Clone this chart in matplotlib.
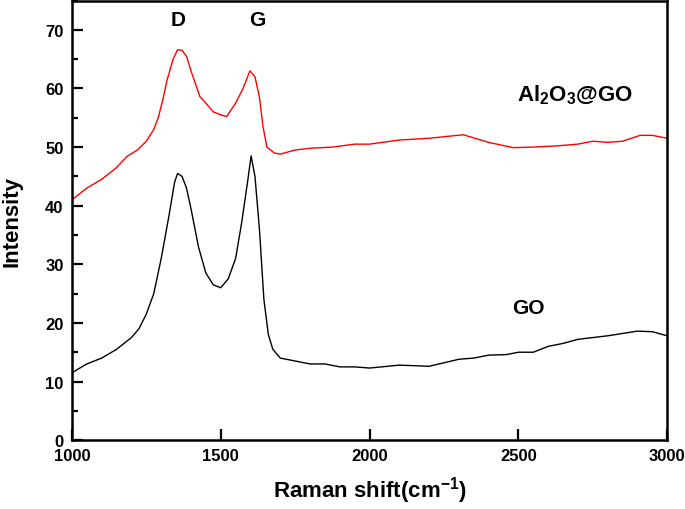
import matplotlib
matplotlib.use("Agg")
import matplotlib.pyplot as plt
from matplotlib.ticker import MultipleLocator

plt.rcParams["font.family"] = ["Liberation Sans", "DejaVu Sans"]
plt.rcParams["font.weight"] = "bold"
plt.rcParams["mathtext.fontset"] = "custom"
plt.rcParams["mathtext.rm"] = "Liberation Sans:bold"
plt.rcParams["mathtext.it"] = "Liberation Sans:bold"
plt.rcParams["mathtext.bf"] = "Liberation Sans:bold"

# GO spectrum
go_shift = [1000, 1050, 1100, 1150, 1200, 1225, 1250, 1275, 1300, 1325, 1345,
            1355, 1370, 1385, 1400, 1425, 1450, 1475, 1500, 1525, 1550, 1570,
            1590, 1602, 1615, 1630, 1645, 1660, 1675, 1700, 1750, 1800, 1850,
            1900, 1950, 2000, 2100, 2200, 2300, 2350, 2400, 2460, 2500, 2550,
            2600, 2650, 2700, 2800, 2900, 2950, 3000]
go_int = [11.5, 13, 14, 15.5, 17.5, 19, 21.5, 25, 31, 38, 44,
          45.5, 45, 43, 39.5, 33, 28.5, 26.5, 26, 27.5, 31, 37,
          44, 48.5, 45, 36, 24, 18, 15.5, 14, 13.5, 13, 13,
          12.5, 12.5, 12.3, 12.8, 12.6, 13.8, 14, 14.5, 14.6, 15, 15,
          16, 16.5, 17.2, 17.8, 18.6, 18.5, 17.8]

# Al2O3@GO spectrum
al_shift = [1000, 1050, 1100, 1150, 1185, 1220, 1250, 1275, 1290, 1305, 1320,
            1340, 1355, 1370, 1385, 1400, 1430, 1450, 1475, 1500, 1520, 1550,
            1575, 1598, 1615, 1630, 1642, 1655, 1680, 1700, 1750, 1800, 1877,
            1950, 2000, 2100, 2200, 2315, 2400, 2483, 2550, 2630, 2700, 2751,
            2800, 2850, 2909, 2950, 3000]
al_int = [41, 43, 44.5, 46.5, 48.4, 49.5, 51, 53, 55, 58, 61.5,
          65, 66.6, 66.5, 65.5, 63, 58.6, 57.5, 56, 55.5, 55.2, 57.5,
          60, 63, 62, 58.5, 53.5, 50, 49, 48.8, 49.5, 49.8, 50,
          50.5, 50.5, 51.2, 51.5, 52.1, 50.8, 49.9, 50, 50.2, 50.5, 51,
          50.8, 51, 52, 52, 51.5]

fig = plt.figure(figsize=(6.85, 5.10), dpi=100)
ax = fig.add_axes([0.105, 0.135, 0.869, 0.862])

ax.plot(go_shift, go_int, color="black", lw=1.0)
ax.plot(al_shift, al_int, color="red", lw=1.0)

ax.set_xlim(1000, 3000)
ax.set_ylim(0, 75)
ax.xaxis.set_major_locator(MultipleLocator(500))
ax.yaxis.set_major_locator(MultipleLocator(10))
ax.yaxis.set_minor_locator(MultipleLocator(5))
ax.tick_params(axis="both", which="major", direction="in", length=8, width=1.6,
               labelsize=12, pad=6, top=False, right=False)
ax.tick_params(axis="y", which="minor", direction="in", length=4, width=1.6)
ax.tick_params(axis="x", which="minor", bottom=False)
for s in ax.spines.values():
    s.set_linewidth(1.8)

ax.set_xlabel("Raman shift(cm$^{-1}$)", fontsize=16, fontweight="bold", labelpad=8)
ax.set_ylabel("Intensity", fontsize=16, fontweight="bold", labelpad=16)

ax.text(1356, 71.7, "D", fontsize=15, fontweight="bold", ha="center", va="center")
ax.text(1622, 71.7, "G", fontsize=15, fontweight="bold", ha="center", va="center")
ax.text(2691, 59, r"Al$_\mathrm{2}$O$_\mathrm{3}$@GO", fontsize=16, fontweight="bold",
        ha="center", va="center")
ax.text(2533, 22.7, "GO", fontsize=15, fontweight="bold", ha="center", va="center")

fig.savefig("out.png", dpi=100)
